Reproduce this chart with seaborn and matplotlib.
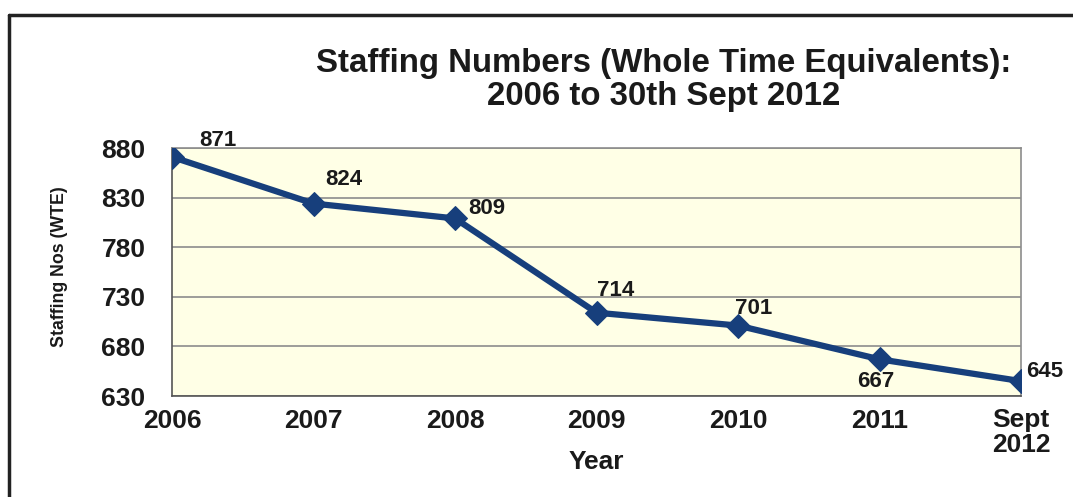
import matplotlib
matplotlib.use("Agg")
import matplotlib.pyplot as plt
import seaborn as sns
import pandas as pd
import numpy as np

categories = ["2006", "2007", "2008", "2009", "2010", "2011", "Sept\n2012"]
values = [871, 824, 809, 714, 701, 667, 645]
yticks = [630, 680, 730, 780, 830, 880]
title = "Staffing Numbers (Whole Time Equivalents):\n2006 to 30th Sept 2012"
xlabel = "Year"
ylabel = "Staffing Nos (WTE)"
# label offsets in points (dx, dy)
label_offsets = [(33, 12), (22, 17), (23, 7), (14, 16), (11, 12), (-3, -16), (17, 7)]

sns.set_style("white")
plt.rcParams['font.family'] = ['Liberation Sans', 'DejaVu Sans']

W, H = 1073, 497
fig = plt.figure(figsize=(W / 100, H / 100), dpi=100)
ax = fig.add_axes([172 / W, 1 - 396 / H, (1021 - 172) / W, (396 - 148) / H])

df = pd.DataFrame({"x": np.arange(len(values)), "y": values})
ax.set_facecolor("#FFFFE6")
for yv in yticks:
    ax.axhline(yv, color="#8C8C8C", lw=1.2, zorder=1)

sns.lineplot(data=df, x="x", y="y", ax=ax, color="#173F7C", lw=4.5,
             marker="D", markersize=12, markeredgecolor="#173F7C", zorder=3)

for i, v in enumerate(values):
    dx, dy = label_offsets[i]
    ax.annotate(str(v), (i, v), xytext=(dx, dy), textcoords="offset points",
                ha="center", va="center", fontsize=16, fontweight="bold",
                color="#1a1a1a")

ax.set_xlim(0, len(values) - 1)
ax.set_ylim(630, 880)
ax.set_xticks(range(len(categories)))
ax.set_xticklabels(categories, fontsize=19, fontweight="bold", color="#1a1a1a",
                   linespacing=1.0)
ax.set_yticks(yticks)
ax.set_yticklabels([str(t) for t in yticks], fontsize=19, fontweight="bold",
                   color="#1a1a1a")
ax.tick_params(axis="x", length=4, pad=5, color="#555555")
ax.tick_params(axis="y", length=4, pad=15, color="#555555")
for s in ["left", "bottom"]:
    ax.spines[s].set_color("#555555")
    ax.spines[s].set_linewidth(1.2)
for s in ["top", "right"]:
    ax.spines[s].set_color("#8C8C8C")
    ax.spines[s].set_linewidth(1.2)

ax.set_xlabel(xlabel, fontsize=19, fontweight="bold", color="#1a1a1a")
ax.xaxis.set_label_coords(0.5, -(450 - 396) / 248)
ax.set_ylabel("")
fig.text(60 / W, 1 - 267 / H, ylabel, rotation=90, ha="center", va="center",
         fontsize=12.8, fontweight="bold", color="#1a1a1a")

fig.text(664 / W, 1 - 80 / H, title, ha="center", va="center", fontsize=23.8,
         fontweight="bold", color="#1a1a1a", linespacing=1.05)

# outer frame lines (top and left)
fig.add_artist(plt.Line2D([9 / W, 1], [1 - 15 / H, 1 - 15 / H], color="#222222", lw=2.5))
fig.add_artist(plt.Line2D([9 / W, 9 / W], [0, 1 - 15 / H], color="#222222", lw=2.5))

fig.savefig("out.png", dpi=100)
